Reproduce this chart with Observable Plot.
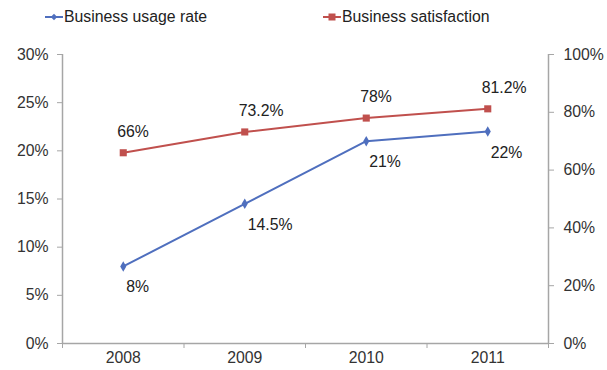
<!DOCTYPE html>
<html><head><meta charset="utf-8">
<script src="https://cdn.jsdelivr.net/npm/d3@7"></script>
<script src="https://cdn.jsdelivr.net/npm/@observablehq/plot@0.6"></script>
<style>
body{margin:0;background:#fff;font-family:"Liberation Sans",Arial,sans-serif;}
#wrap{width:607px;height:370px;position:relative;overflow:hidden;}
#legend{height:34px;position:relative;font-size:15.8px;color:#222;}
.item{position:absolute;top:8px;display:flex;align-items:center;white-space:nowrap;}
.item svg{margin-right:1px;}
#chart svg{display:block;}
</style></head><body>
<div id="wrap"><div id="legend"></div><div id="chart"></div></div>
<script>
const years = [2008, 2009, 2010, 2011];
const usageRate = [8, 14.5, 21, 22];
const satisfaction = [66, 73.2, 78, 81.2];
const leftTicks = [0, 5, 10, 15, 20, 25, 30];
const rightTicks = [0, 20, 40, 60, 80, 100];
const seriesNames = ["Business usage rate", "Business satisfaction"];
const colors = ["#4f6fbe", "#c0504d"];

const leftMax = leftTicks[leftTicks.length - 1];
const rightMax = rightTicks[rightTicks.length - 1];
const k = leftMax / rightMax;

const usageData = years.map((y, i) => ({year: y, v: usageRate[i], label: usageRate[i] + "%"}));
const satData = years.map((y, i) => ({year: y, v: satisfaction[i] * k, label: satisfaction[i] + "%"}));
const bounds = [years[0] - 0.5, ...years.map(y => y + 0.5)];

// legend
const legend = document.getElementById("legend");
const legendPos = [45, 323];
seriesNames.forEach((name, i) => {
  const div = document.createElement("div");
  div.className = "item";
  div.style.left = legendPos[i] + "px";
  const marker = i === 0
    ? `<polygon points="9,2.8 12.2,6 9,9.2 5.8,6" fill="${colors[i]}"/>`
    : `<rect x="5.5" y="2.5" width="7" height="7" fill="${colors[i]}"/>`;
  div.innerHTML = `<svg width="18" height="12"><line x1="0" x2="18" y1="6" y2="6" stroke="${colors[i]}" stroke-width="2"/>${marker}</svg><span>${name}</span>`;
  legend.appendChild(div);
});

const gray = "#a6a6a6";
const textColor = "#333";
const fs = 15.8;
const chart = Plot.plot({
  width: 607,
  height: 336,
  marginLeft: 62,
  marginRight: 59,
  marginTop: 20,
  marginBottom: 27,
  x: {domain: [bounds[0], bounds[bounds.length - 1]]},
  y: {domain: [0, leftMax]},
  style: {fontFamily: "'Liberation Sans', Arial, sans-serif", fontSize: fs + "px", color: textColor, background: "#fff", overflow: "visible"},
  marks: [
    Plot.ruleY([0], {stroke: gray, strokeWidth: 1.5}),
    Plot.ruleX([bounds[0], bounds[bounds.length - 1]], {stroke: gray, strokeWidth: 1.5}),
    Plot.axisY(leftTicks, {anchor: "left", tickSize: 5, tickPadding: 9, stroke: gray, fill: textColor, tickFormat: d => d + "%", label: null}),
    Plot.axisY(rightTicks.map(v => v * k), {anchor: "right", tickSize: 5, tickPadding: 10, stroke: gray, fill: textColor, tickFormat: d => Math.round(d / k) + "%", label: null}),
    Plot.axisX(bounds, {tickSize: 5, stroke: gray, tickFormat: () => "", label: null}),
    Plot.axisX(years, {tickSize: 0, tickPadding: 8, fill: textColor, tickFormat: d => String(d), label: null}),
    Plot.line(satData, {x: "year", y: "v", stroke: colors[1], strokeWidth: 2}),
    Plot.line(usageData, {x: "year", y: "v", stroke: colors[0], strokeWidth: 2}),
    Plot.dot(satData, {x: "year", y: "v", symbol: "square", r: 4, fill: colors[1]}),
    Plot.dot(usageData, {x: "year", y: "v", symbol: "diamond", r: 3.2, fill: colors[0]}),
    Plot.text(satData, {x: "year", y: "v", text: "label", textAnchor: "start", dx: -6, dy: -21, fill: "#222", fontSize: fs}),
    Plot.text(usageData, {x: "year", y: "v", text: "label", textAnchor: "start", dx: 3, dy: 21, fill: "#222", fontSize: fs})
  ]
});
document.getElementById("chart").appendChild(chart);
</script>
</body></html>
